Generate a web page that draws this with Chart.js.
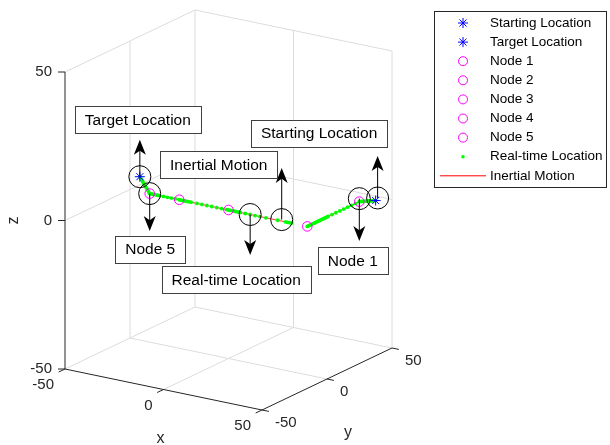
<!DOCTYPE html>
<html>
<head>
<meta charset="utf-8">
<script src="https://cdn.jsdelivr.net/npm/chart.js@4.4.1/dist/chart.umd.min.js"></script>
<style>
  html, body { margin: 0; padding: 0; background: #fff; }
  #box { width: 610px; height: 445px; position: relative; }
</style>
</head>
<body>
<div id="box"><canvas id="chart"></canvas></div>
<script>
// axis limits / ticks, same for x, y and z
const axisLimits = [-50, 50];
const tickValues = [-50, 0, 50];

const startLocation = [45, 45, 0];
const targetLocation = [-45, 0, 5];
const nodeNames = ['Node 1', 'Node 2', 'Node 3', 'Node 4', 'Node 5'];
const nodeLocations = [[40, 40, 0], [40, 0, 0], [0, 0, 0], [-25, 0, 0], [-40, 0, 0]];

// inertial motion line (null = break)
const inertialPath = [[-45, 0, 5], [-40, 0, 0], [-25, 0, 0], [0, 0, 0], [32, 0, 0], null,
  [40, 0, 0], [40, 40, 0], [45, 45, 0]];

// real-time positions
const realTimeLocations = [
  // target -> node 5
  [-45, 0, 5], [-44.5, 0, 4.5], [-44, 0, 4], [-43.5, 0, 3.5], [-43, 0, 3], [-42.5, 0, 2.5],
  [-42, 0, 2], [-41.5, 0, 1.5], [-41, 0, 1], [-40.5, 0, 0.5],
  // node 5 -> node 4
  [-40, 0, 0], [-39, 0, 0], [-38, 0, 0], [-37, 0, 0], [-36, 0, 0], [-35, 0, 0],
  [-33, 0, 0], [-31, 0, 0], [-29, 0, 0], [-27, 0, 0],
  // node 4 -> node 3
  [-25, 0, 0], [-24, 0, 0], [-23, 0, 0], [-22, 0, 0], [-21, 0, 0], [-20, 0, 0], [-19, 0, 0],
  [-16, 0, 0], [-13.5, 0, 0], [-11, 0, 0], [-8.5, 0, 0], [-6, 0, 0], [-3.5, 0, 0], [-1, 0, 0],
  // node 3 -> end of first leg
  [0, 0, 0], [1, 0, 0], [2, 0, 0], [3, 0, 0], [4, 0, 0], [5, 0, 0], [6, 0, 0],
  [8.5, 0, 0], [11, 0, 0], [13.5, 0, 0], [16, 0, 0], [19, 0, 0], [25, 0, 0],
  [29, 0, 0], [30, 0, 0], [31, 0, 0], [32, 0, 0],
  // node 2 -> node 1
  [40, 0, 0], [40, 1, 0], [40, 2, 0], [40, 3, 0], [40, 4, 0], [40, 5, 0], [40, 6, 0], [40, 7, 0],
  [40, 8, 0], [40, 9, 0], [40, 10, 0], [40, 11, 0], [40, 12, 0], [40, 13, 0], [40, 14, 0],
  [40, 15, 0], [40, 16, 0],
  [40, 19, 0], [40, 22, 0], [40, 25, 0], [40, 28, 0], [40, 31, 0], [40, 34, 0], [40, 37, 0],
  // node 1 -> start
  [40, 40, 0], [40.5, 40.5, 0], [41, 41, 0], [41.5, 41.5, 0], [42, 42, 0], [42.5, 42.5, 0],
  [43, 43, 0], [43.5, 43.5, 0], [44, 44, 0], [44.5, 44.5, 0], [45, 45, 0]
];

// marked points: black circle + vertical arrow + text box
const markLabels = ['Target Location', 'Node 5', 'Real-time Location', 'Inertial Motion', 'Node 1', 'Starting Location'];
const markPoints = [[-45, 0, 5], [-40, 0, 0], [11, 0, 0], [27, 0, 0.5], [40, 40, 1], [46, 45, 1]];
const markArrowDz = [12.4, -12.6, -13.6, 17.4, -14.3, 14.1];

// text box centre relative to the arrow tip, px
const labelOffsets = [[-2, -20.5], [0.5, 18], [-14, 25], [-63, -3], [-6.5, 19.5], [-58.5, -23]];

// view: pixels per data unit (screen y up)
function project(p) {
  return { x: p[0] * 1.97 + p[1] * 1.30, y: -p[0] * 0.41 + p[1] * 0.62 + p[2] * 2.97 };
}
const toXY = p => p ? project(p) : { x: null, y: null };

const FONT = '"Liberation Sans", Arial, Helvetica, sans-serif';

function px(chart, p) {
  const q = project(p);
  return [chart.scales.x.getPixelForValue(q.x), chart.scales.y.getPixelForValue(q.y)];
}

function seg(ctx, a, b) {
  ctx.beginPath();
  ctx.moveTo(a[0], a[1]);
  ctx.lineTo(b[0], b[1]);
  ctx.stroke();
}

function drawStar(ctx, x, y, r) {
  const d = r * Math.SQRT1_2;
  seg(ctx, [x - r, y], [x + r, y]);
  seg(ctx, [x, y - r], [x, y + r]);
  seg(ctx, [x - d, y - d], [x + d, y + d]);
  seg(ctx, [x - d, y + d], [x + d, y - d]);
}

const axesPlugin = {
  id: 'axes3d',
  beforeDatasetsDraw(chart) {
    const ctx = chart.ctx;
    const [lo, hi] = axisLimits;
    const P = p => px(chart, p);
    ctx.save();
    ctx.lineWidth = 1;

    // back edges and grid lines
    ctx.strokeStyle = '#dcdcdc';
    const light = [
      [[lo, lo, hi], [lo, hi, hi]], [[lo, hi, hi], [hi, hi, hi]],
      [[lo, hi, lo], [lo, hi, hi]], [[hi, hi, lo], [hi, hi, hi]],
      [[lo, lo, lo], [lo, hi, lo]], [[lo, hi, lo], [hi, hi, lo]]
    ];
    tickValues.filter(t => t > lo && t < hi).forEach(t => {
      light.push([[t, lo, lo], [t, hi, lo]], [[t, hi, lo], [t, hi, hi]]);
      light.push([[lo, t, lo], [hi, t, lo]], [[lo, t, lo], [lo, t, hi]]);
      light.push([[lo, lo, t], [lo, hi, t]], [[lo, hi, t], [hi, hi, t]]);
    });
    light.forEach(([a, b]) => seg(ctx, P(a), P(b)));

    // axis lines
    ctx.strokeStyle = '#262626';
    seg(ctx, P([lo, lo, lo]), P([lo, lo, hi]));
    seg(ctx, P([lo, lo, lo]), P([hi, lo, lo]));
    seg(ctx, P([hi, lo, lo]), P([hi, hi, lo]));

    ctx.fillStyle = '#262626';
    ctx.font = '15px ' + FONT;
    tickValues.forEach(t => {
      // z
      let p = P([lo, lo, t]);
      seg(ctx, p, [p[0] - 7, p[1]]);
      ctx.textAlign = 'right'; ctx.textBaseline = 'middle';
      ctx.fillText(String(t), p[0] - 13, p[1]);
      // x
      p = P([t, lo, lo]);
      seg(ctx, p, [p[0] - 6.3, p[1] + 3]);
      ctx.fillText(String(t), p[0] - 11, p[1] + 16);
      // y
      p = P([hi, t, lo]);
      seg(ctx, p, [p[0] + 6.9, p[1] + 1.4]);
      ctx.textAlign = 'left';
      ctx.fillText(String(t), p[0] + 13, p[1] + 13);
    });

    ctx.font = '16px ' + FONT;
    ctx.textAlign = 'center';
    let m = P([0, lo, lo]);
    ctx.fillText('x', m[0] - 3, m[1] + 49);
    m = P([hi, 0, lo]);
    ctx.fillText('y', m[0] + 21, m[1] + 54);
    m = P([lo, lo, 0]);
    ctx.save();
    ctx.translate(14, m[1]);
    ctx.rotate(-Math.PI / 2);
    ctx.fillText('z', 0, 0);
    ctx.restore();
    ctx.restore();
  },

  afterDatasetsDraw(chart) {
    const ctx = chart.ctx;
    ctx.save();
    // arrows + labels
    markPoints.forEach((p, i) => {
      const a = px(chart, p);
      const tip = px(chart, [p[0], p[1], p[2] + markArrowDz[i]]);
      const dir = Math.sign(tip[1] - a[1]);
      const len = 15, half = 6;
      ctx.strokeStyle = '#000';
      ctx.lineWidth = 1;
      seg(ctx, a, [tip[0], tip[1] - dir * len * 0.6]);
      ctx.fillStyle = '#000';
      ctx.beginPath();
      ctx.moveTo(tip[0], tip[1]);
      ctx.lineTo(tip[0] - half, tip[1] - dir * len);
      ctx.lineTo(tip[0], tip[1] - dir * len * 0.72);
      ctx.lineTo(tip[0] + half, tip[1] - dir * len);
      ctx.closePath();
      ctx.fill();

      const c = [tip[0] + labelOffsets[i][0], tip[1] + labelOffsets[i][1]];
      ctx.font = '15.5px ' + FONT;
      const w = ctx.measureText(markLabels[i]).width + 20, h = 27;
      ctx.fillStyle = '#fff';
      ctx.fillRect(Math.round(c[0] - w / 2) + 0.5, Math.round(c[1] - h / 2) + 0.5, Math.round(w), h);
      ctx.strokeStyle = '#404040';
      ctx.strokeRect(Math.round(c[0] - w / 2) + 0.5, Math.round(c[1] - h / 2) + 0.5, Math.round(w), h);
      ctx.fillStyle = '#000';
      ctx.textAlign = 'center';
      ctx.textBaseline = 'middle';
      ctx.fillText(markLabels[i], c[0], c[1] + 1);
    });

    // legend
    const items = chart.data.datasets.filter(d => !d.noLegend);
    const lx = 434.5, ly = 11.5, lw = 172, lh = 176;
    ctx.fillStyle = '#fff';
    ctx.fillRect(lx, ly, lw, lh);
    ctx.strokeStyle = '#262626';
    ctx.lineWidth = 1;
    ctx.strokeRect(lx, ly, lw, lh);
    ctx.font = '13.5px ' + FONT;
    ctx.textAlign = 'left';
    ctx.textBaseline = 'middle';
    items.forEach((d, i) => {
      const y = 23 + i * 19.1;
      const sx = 463;
      if (d.showLine) {
        ctx.strokeStyle = d.borderColor;
        ctx.lineWidth = 1;
        seg(ctx, [440, y], [486, y]);
      } else if (d.pointStyle === 'star') {
        ctx.strokeStyle = d.borderColor;
        ctx.lineWidth = 1;
        drawStar(ctx, sx, y, 5);
      } else if (d.borderWidth === 0) {
        ctx.fillStyle = d.backgroundColor;
        ctx.beginPath();
        ctx.arc(sx, y, 1.8, 0, Math.PI * 2);
        ctx.fill();
      } else {
        ctx.strokeStyle = d.borderColor;
        ctx.lineWidth = 1;
        ctx.beginPath();
        ctx.arc(sx, y, 4.5, 0, Math.PI * 2);
        ctx.stroke();
      }
      ctx.fillStyle = '#000';
      ctx.fillText(d.label, 490, y);
    });
    ctx.restore();
  }
};

const datasets = [
  { label: 'Starting Location', data: [toXY(startLocation)], pointStyle: 'star', pointRadius: 5,
    borderColor: '#0000ff', backgroundColor: '#0000ff', borderWidth: 1, order: 0 },
  { label: 'Target Location', data: [toXY(targetLocation)], pointStyle: 'star', pointRadius: 5,
    borderColor: '#0000ff', backgroundColor: '#0000ff', borderWidth: 1, order: 0 }
];
nodeNames.forEach((name, i) => {
  datasets.push({ label: name, data: [toXY(nodeLocations[i])], pointStyle: 'circle', pointRadius: 4.8,
    borderColor: '#ff00ff', backgroundColor: 'rgba(0,0,0,0)', borderWidth: 1, order: 1 });
});
datasets.push(
  { label: 'Real-time Location', data: realTimeLocations.map(toXY), pointStyle: 'circle', pointRadius: 1.9,
    backgroundColor: '#00ff00', borderColor: '#00ff00', borderWidth: 0, order: 3 },
  { label: 'Inertial Motion', data: inertialPath.map(toXY), showLine: true, spanGaps: false, pointRadius: 0,
    borderColor: '#ff0000', borderWidth: 0.8, order: 4 },
  { label: 'marks', noLegend: true, data: markPoints.map(toXY), pointStyle: 'circle', pointRadius: 11,
    borderColor: '#000', backgroundColor: 'rgba(0,0,0,0)', borderWidth: 1, order: 2 }
);

new Chart(document.getElementById('chart'), {
  type: 'scatter',
  data: { datasets },
  options: {
    responsive: true,
    maintainAspectRatio: false,
    animation: false,
    events: [],
    layout: { padding: 0, autoPadding: false },
    scales: {
      x: { type: 'linear', display: false, min: -228.5, max: 381.5 },
      y: { type: 'linear', display: false, min: -235, max: 210 }
    },
    plugins: { legend: { display: false }, tooltip: { enabled: false } }
  },
  plugins: [axesPlugin]
});
</script>
</body>
</html>
